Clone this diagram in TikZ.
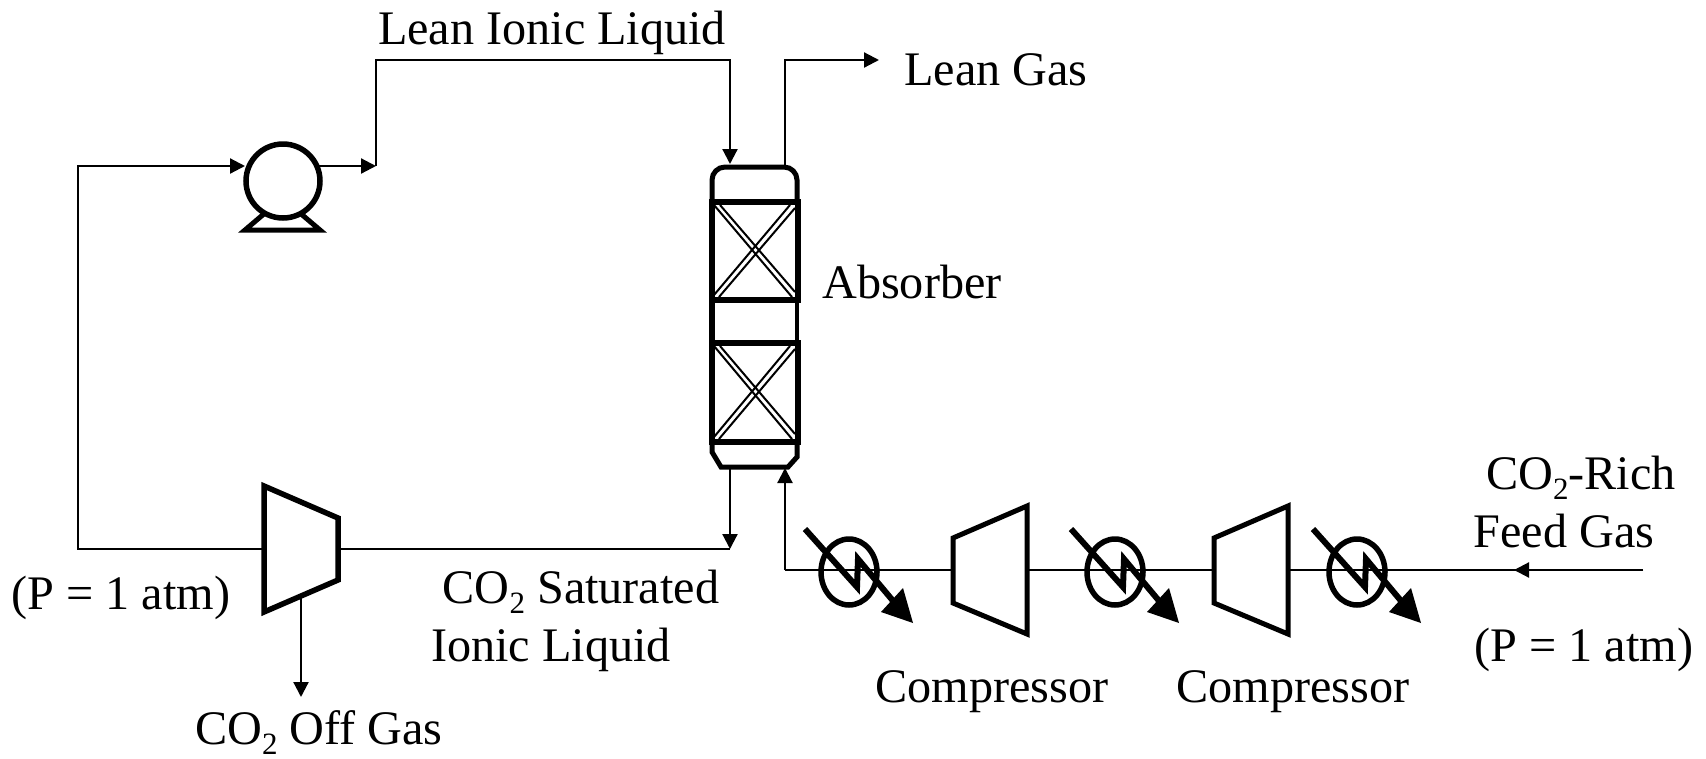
\documentclass[tikz,border=0pt]{standalone}
\usepackage{fontspec}
\setmainfont{Liberation Serif}
\usetikzlibrary{arrows.meta,shapes.geometric}
\tikzset{
  pipe/.style={line width=2.2pt},
  flow/.style={pipe,-{Triangle[length=15pt,width=15pt]}},
  equip/.style={line width=5.5pt,line join=miter,fill=white},
  pack/.style={line width=2pt},
  lab/.style={font=\fontsize{48.2}{48}\selectfont,inner sep=0pt,anchor=base},
}
\newcommand{\packing}[3]{% left x, top y, bottom y
  \draw[pack] (#1+2,#2+3) -- (#1+80,#3-3) (#1+8,#2+3) -- (#1+83,#3-8)
    (#1+2,#3-5) -- (#1+78,#2+3) (#1+7,#3-3) -- (#1+83,#2+6);
}
\newcommand{\cooler}[3]{% name, cx, cy
  \node[draw,ellipse,line width=5.5pt,minimum width=56pt,minimum height=66pt,inner sep=0pt] (#1) at (#2,#3) {};
  \draw[line width=6pt,line join=miter] (#2-44,#3-43) -- (#2+8,#3+15) -- (#2+9,#3-13) -- (#2+50,#3+36);
  \fill (#2+54,#3+16) -- (#2+64,#3+51) -- (#2+32,#3+40) -- cycle;
}
\newcommand{\subtwo}{\raisebox{-0.22em}{\fontsize{31}{31}\selectfont 2}}
\begin{document}
\begin{tikzpicture}[x=1pt,y=-1pt]
\useasboundingbox (0,0) rectangle (1706,758);
% pipes
\coordinate (pumpin) at (245,166);
\coordinate (cornerA) at (78,166);
\coordinate (cornerB) at (78,549);
\coordinate (valveL) at (263,549);
\coordinate (valveR) at (338,549);
\coordinate (richend) at (730,549);
\coordinate (offtop) at (301,597);
\coordinate (offend) at (301,697);
\coordinate (pumpout) at (315,166);
\coordinate (mid1) at (376,166);
\coordinate (top1) at (376,60);
\coordinate (top2) at (730,60);
\coordinate (colin) at (730,164);
\coordinate (colout) at (785,166);
\coordinate (g1) at (785,60);
\coordinate (g2) at (879,60);
\coordinate (colbot) at (730,468);
\coordinate (colfeed) at (785,468);
\coordinate (fc) at (785,570);
\coordinate (feedstart) at (1643,570);
\coordinate (feedmid) at (1514,570);
% streams
\draw[flow] (valveL) -- (cornerB) -- (cornerA) -- (pumpin);
\draw[flow] (pumpout) -- (mid1);
\draw[flow] (mid1) -- (top1) -- (top2) -- (colin);
\draw[flow] (colout) -- (g1) -- (g2);
\draw[flow] (colbot) -- (richend);
\draw[pipe] (valveR) -- (richend);
\draw[flow] (offtop) -- (offend);
\draw[pipe] (feedstart) -- (fc);
\draw[flow] (feedstart) -- (feedmid);
\draw[flow] (fc) -- (colfeed);
% pump
\draw[line width=5pt,line join=miter] (265,213) -- (245,230) -- (320,230) -- (300,213) -- cycle;
\node[draw,circle,line width=5.5pt,fill=white,minimum size=74pt,inner sep=0pt] (pump) at (283,181) {};
% valve
\draw[equip] (264,486) -- (338,518) -- (338,580) -- (264,612) -- cycle;
% column
\draw[line width=5pt,rounded corners=13pt] (712,202) -- (712,167) -- (797,167) -- (797,202);
\draw[line width=5pt] (712,442) -- (712,452) -- (721,467) -- (788,467) -- (797,457) -- (797,442);
\draw[line width=4.5pt] (797,300) -- (797,343);
\draw[line width=6pt] (712,200) -- (712,445);
\draw[line width=5.5pt] (709,202) -- (800,202) (709,300) -- (800,300) (709,343) -- (800,343) (709,442) -- (800,442);
\draw[line width=6pt] (798,199) -- (798,303) (798,340) -- (798,445);
\packing{712}{202}{300}
\packing{712}{343}{442}
% compressors
\draw[equip,line width=5pt] (953,538) -- (1027,506) -- (1027,634) -- (953,603) -- cycle;
\draw[equip,line width=5pt] (1214,538) -- (1288,506) -- (1288,634) -- (1214,603) -- cycle;
% coolers
\cooler{c1}{849}{572}
\cooler{c2}{1115}{572}
\cooler{c3}{1357}{572}
% labels
\node[lab] (t1) at (552,44) {Lean Ionic Liquid};
\node[lab] (t2) at (996,85) {Lean Gas};
\node[lab] (t3) at (912,298) {Absorber};
\node[lab] (t4) at (121,609) {(P = 1 atm)};
\node[lab] (t5) at (581,603) {CO\subtwo{} Saturated};
\node[lab] (t6) at (551,661) {Ionic Liquid};
\node[lab] (t7) at (319,744) {CO\subtwo{} Off Gas};
\node[lab] (t8) at (992,702) {Compressor};
\node[lab] (t9) at (1293,702) {Compressor};
\node[lab] (t10) at (1581,489) {CO\subtwo{}-Rich};
\node[lab] (t11) at (1564,547) {Feed Gas};
\node[lab] (t12) at (1584,661) {(P = 1 atm)};
\end{tikzpicture}
\end{document}
